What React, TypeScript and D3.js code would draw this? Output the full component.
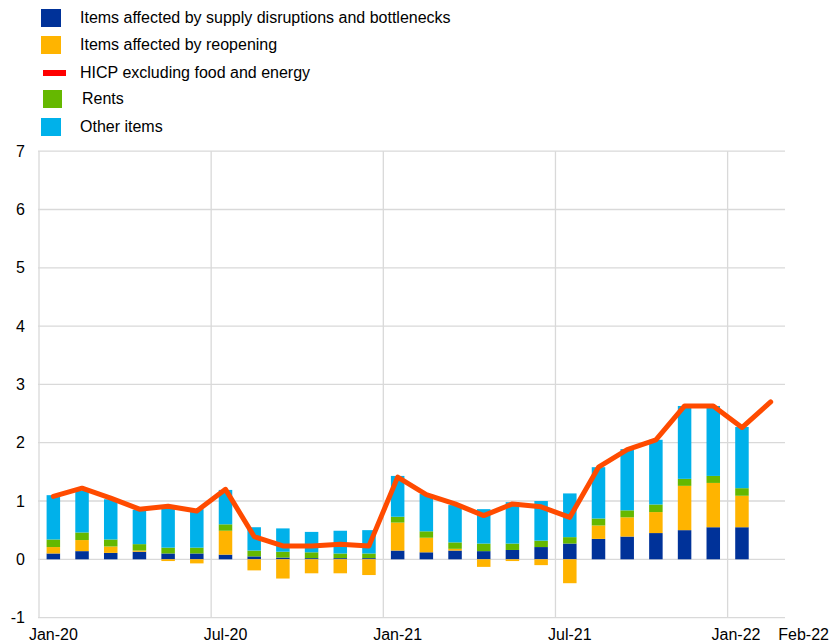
import React from "react";
import * as d3 from "d3";

const months = [
  "Jan-20","Feb-20","Mar-20","Apr-20","May-20","Jun-20","Jul-20","Aug-20","Sep-20","Oct-20","Nov-20","Dec-20",
  "Jan-21","Feb-21","Mar-21","Apr-21","May-21","Jun-21","Jul-21","Aug-21","Sep-21","Oct-21","Nov-21","Dec-21",
  "Jan-22","Feb-22",
];
const supply = [0.10,0.14,0.11,0.13,0.10,0.10,0.08,0.05,0.03,0.02,0.02,0.02,0.15,0.12,0.15,0.14,0.16,0.21,0.27,0.35,0.39,0.45,0.50,0.55,0.55,null];
const reopening = [0.11,0.19,0.11,0.02,-0.03,-0.07,0.41,-0.19,-0.33,-0.24,-0.24,-0.27,0.48,0.25,0.03,-0.13,-0.03,-0.10,-0.41,0.23,0.33,0.36,0.76,0.76,0.54,null];
const rents = [0.13,0.13,0.12,0.11,0.10,0.10,0.11,0.10,0.10,0.10,0.08,0.08,0.10,0.11,0.11,0.13,0.11,0.11,0.11,0.12,0.12,0.13,0.12,0.12,0.13,null];
const other = [0.76,0.72,0.69,0.59,0.69,0.66,0.59,0.40,0.40,0.35,0.39,0.40,0.70,0.64,0.64,0.59,0.71,0.68,0.75,0.88,1.05,1.11,1.25,1.20,1.05,null];
const hicp = [1.08,1.22,1.05,0.86,0.91,0.83,1.20,0.39,0.23,0.23,0.26,0.23,1.41,1.11,0.95,0.75,0.95,0.90,0.72,1.58,1.88,2.05,2.63,2.63,2.26,2.70];
const yTicks = [-1,0,1,2,3,4,5,6,7];
const xLabels = ["Jan-20","Jul-20","Jan-21","Jul-21","Jan-22","Feb-22"];
const gridMonths = ["Jan-20","Jul-20","Jan-21","Jul-21","Jan-22"];

const seriesKeys = ["supply","reopening","rents","other"];
const colors: Record<string,string> = {
  supply: "#003299",
  reopening: "#FFB400",
  rents: "#65B800",
  other: "#00B1EA",
};
const lineColor = "#FF4B00";

const legendItems = [
  { label: "Items affected by supply disruptions and bottlenecks", type: "rect", color: "#003299" },
  { label: "Items affected by reopening", type: "rect", color: "#FFB400" },
  { label: "HICP excluding food and energy", type: "line", color: "#FF0000" },
  { label: "Rents", type: "rect", color: "#65B800" },
  { label: "Other items", type: "rect", color: "#00B1EA" },
];

export default function App() {
  const W = 831, H = 644;
  const left = 39, right = 785, top = 151.2, bottom = 617.6;
  const x = d3.scaleBand<string>().domain(months).range([left, right]).paddingInner(0).paddingOuter(0);
  const y = d3.scaleLinear().domain([-1, 7]).range([bottom, top]);
  const barW = 13.5;

  const table = months.map((m, i) => ({
    month: m,
    supply: supply[i] ?? 0,
    reopening: reopening[i] ?? 0,
    rents: rents[i] ?? 0,
    other: other[i] ?? 0,
    has: supply[i] !== null,
  }));
  const stack = d3.stack<any>().keys(seriesKeys).offset(d3.stackOffsetDiverging);
  const stacked = stack(table);

  const line = d3.line<number>()
    .x((_, i) => (x(months[i]) as number) + x.bandwidth() / 2)
    .y((d) => y(d));

  const font = "Arial, 'Liberation Sans', sans-serif";
  const legendRowY = [18, 45, 73, 99, 127];

  const xLabelPos = (m: string) => {
    const c = (x(m) as number) + x.bandwidth() / 2;
    if (m === "Jan-22") return c - 6;
    if (m === "Feb-22") return c + 33;
    return c;
  };

  return (
    <svg width={W} height={H} style={{ position: "absolute", left: 0, top: 0, background: "#fff" }} fontFamily={font}>
      {/* legend */}
      {legendItems.map((it, i) => (
        <g key={it.label}>
          {it.type === "rect" ? (
            <rect x={i === 3 ? 43 : 41} y={legendRowY[i] - 9} width={i === 3 ? 19 : 20} height={18} fill={it.color} />
          ) : (
            <rect x={43} y={legendRowY[i] - 3} width={23} height={6} fill={it.color} />
          )}
          <text x={i === 3 ? 82 : 80} y={legendRowY[i] + 4.5} fontSize={16} fill="#000">{it.label}</text>
        </g>
      ))}

      {/* horizontal gridlines */}
      {yTicks.map((t) => (
        <line key={t} x1={left - 1} x2={right} y1={y(t)} y2={y(t)} stroke="#d9d9d9" strokeWidth={1.3} />
      ))}
      {/* vertical gridlines */}
      {gridMonths.map((m) => (
        <line key={m} x1={x(m) as number} x2={x(m) as number} y1={top} y2={bottom} stroke="#d9d9d9" strokeWidth={1.3} />
      ))}

      {/* y tick labels */}
      {yTicks.map((t) => (
        <text key={t} x={25} y={y(t) + 5.5} fontSize={16} textAnchor="end" fill="#000">{t}</text>
      ))}

      {/* bars */}
      {stacked.map((s) => (
        <g key={s.key} fill={colors[s.key]}>
          {s.map((d: any, i: number) =>
            d.data.has && Math.abs(d[1] - d[0]) > 0 ? (
              <rect
                key={i}
                x={(x(d.data.month) as number) + (x.bandwidth() - barW) / 2}
                y={y(Math.max(d[0], d[1]))}
                width={barW}
                height={Math.abs(y(d[0]) - y(d[1]))}
              />
            ) : null
          )}
        </g>
      ))}

      {/* line */}
      <path d={line(hicp) || ""} fill="none" stroke={lineColor} strokeWidth={5} strokeLinejoin="round" strokeLinecap="round" />

      {/* x labels */}
      {xLabels.map((m) => (
        <text key={m} x={xLabelPos(m)} y={640} fontSize={16} textAnchor="middle" fill="#000">{m}</text>
      ))}
    </svg>
  );
}
